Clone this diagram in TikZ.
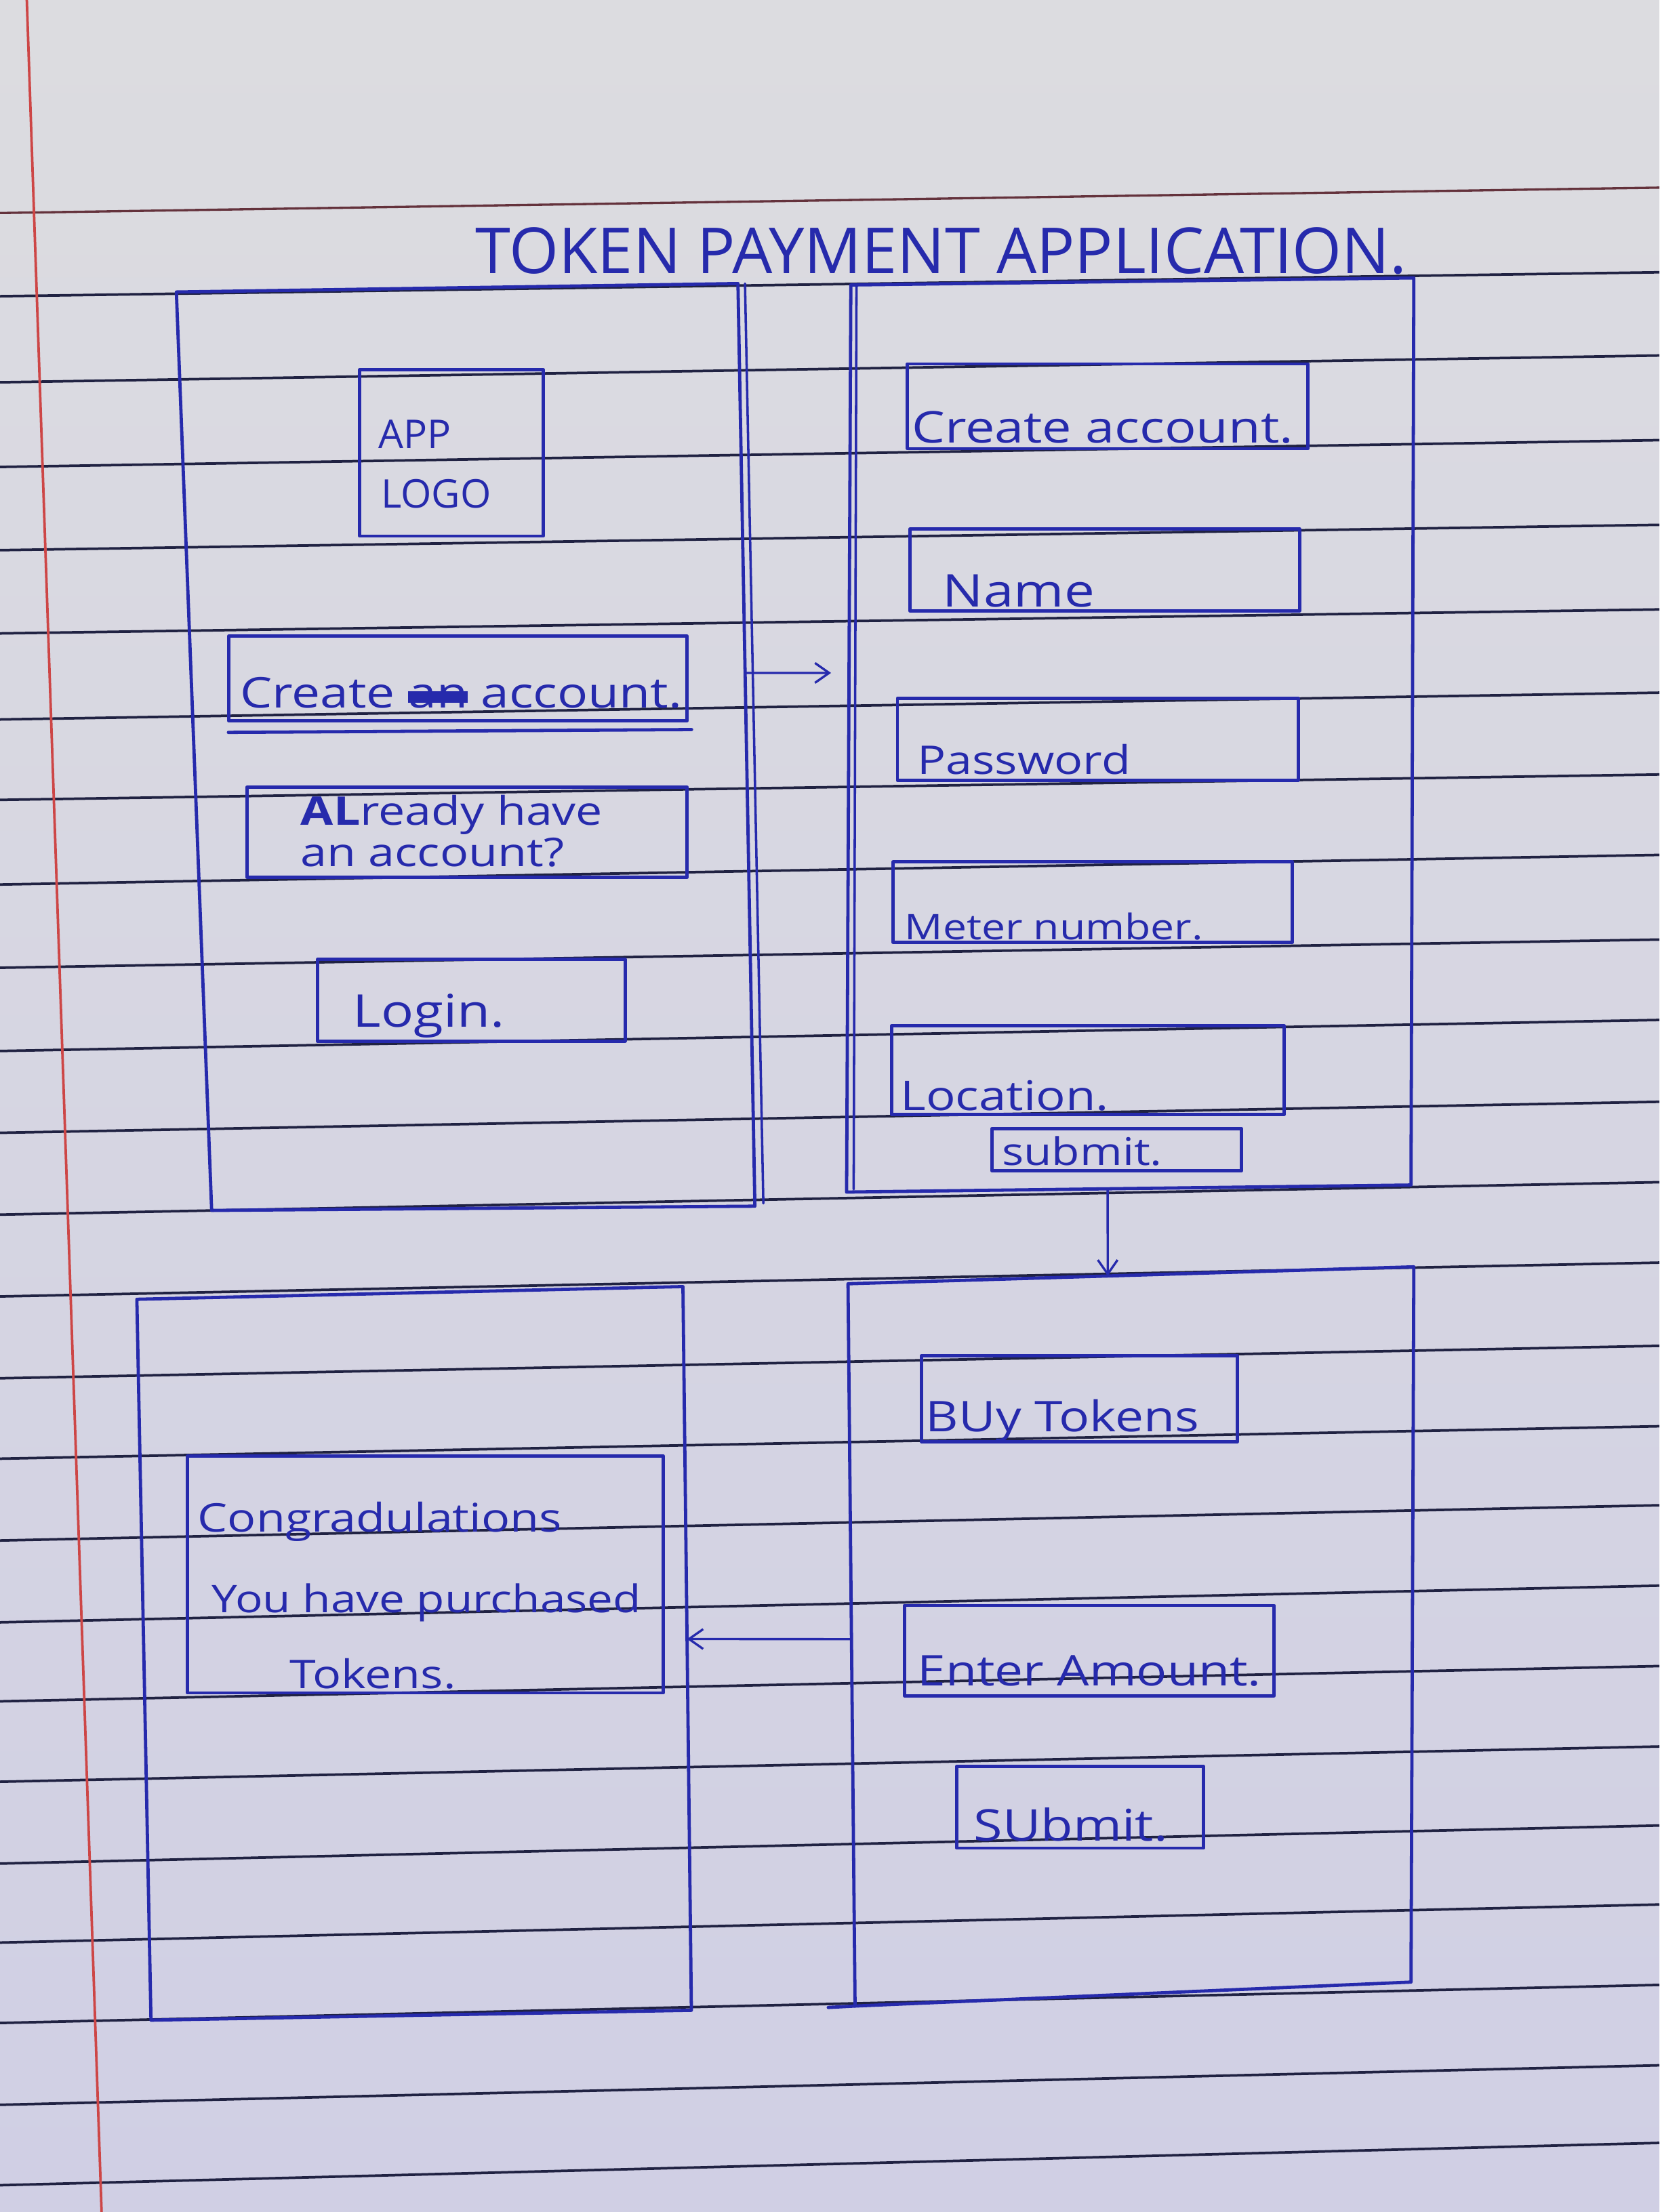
\documentclass[tikz,border=0pt]{standalone}
\usepackage{fontspec}
\newfontfamily\hand[FakeStretch=1.2]{Open Sans}
\newfontfamily\handn{Open Sans}
\usetikzlibrary{arrows.meta,fit,calc}
\definecolor{ink}{RGB}{38,42,172}
\definecolor{rulecol}{RGB}{32,34,66}
\definecolor{headrule}{RGB}{100,50,60}
\definecolor{margincol}{RGB}{205,70,70}
\definecolor{paperTop}{RGB}{220,220,224}
\definecolor{paperBot}{RGB}{208,207,228}
\newcommand\fs[1]{\fontsize{#1}{#1}\selectfont}
% a word scribbled out with a heavy bar
\newsavebox\scribbox
\newcommand\scribble[1]{\sbox\scribbox{#1}\makebox[0pt][l]{\rule[0.12em]{\wd\scribbox}{0.28em}}\usebox\scribbox}

\begin{document}
\begin{tikzpicture}[x=1pt,y=-1pt,
  inkline/.style={draw=ink, line width=2.3pt, line join=round, line cap=round},
  box/.style={inkline, rectangle, inner sep=0pt},
  lbl/.style={text=ink, inner sep=0pt, anchor=base west},
  arr/.style={draw=ink, line width=1.6pt, -{Straight Barb[length=10pt,width=14pt]}},
  rule/.style={draw=rulecol, line width=1.8pt},
]
\useasboundingbox (0,0) rectangle (1176,1568);

% ruled notebook paper
\fill[top color=paperTop, bottom color=paperBot] (0,0) rectangle (1176,1568);
\draw[draw=headrule, line width=1.6pt] (0,151) -- (1176,133);
\foreach \yl/\yr in {210/193, 271/252, 331/312, 390/372, 449/432, 510/491,
    567/549, 627/606, 686/666, 745/723, 803/781, 861/838, 919/895, 977/954,
    1034/1011, 1092/1067, 1150/1124, 1206/1181, 1263/1238, 1321/1294,
    1377/1350, 1434/1407, 1492/1464, 1549/1519}
  \draw[rule] (0,\yl) -- (1176,\yr);
\draw[draw=margincol, line width=1.8pt] (19,0) -- (72,1568);

% title
\node[lbl, anchor=base, font=\handn\fs{45}] (title) at (667,194) {TOKEN PAYMENT APPLICATION.};

% screen 1: welcome
\coordinate (s1a) at (125,207);
\coordinate (s1b) at (523,201);
\coordinate (s1c) at (535,855);
\coordinate (s1d) at (150,858);
\draw[inkline] (s1a) -- (s1b) -- (s1c) -- (s1d) -- cycle;
\draw[inkline, line width=1.7pt] ($(s1b)+(5,0)$) -- ($(s1c)+(6,-2)$);

\node[box, fit={(255,262) (385,380)}] (logo) {};
\node[lbl, font=\handn\fs{28}] (app) at (268,318) {APP};
\node[lbl, font=\handn\fs{28}] (logotxt) at (270,360) {LOGO};

\node[box, fit={(162,451) (487,511)}] (create1) {};
\draw[inkline] ($(create1.south west)+(1,7)$) -- ($(create1.south east)+(2,5)$);
\node[lbl, font=\hand\fs{30}] (create1txt) at (170,502)
  {Create \scribble{an} account.};

\node[box, fit={(175,558) (487,622)}] (already) {};
\node[lbl, font=\hand\fs{28}] (already1) at (213,585) {\textbf{AL}ready have};
\node[lbl, font=\hand\fs{28}] (already2) at (213,614) {an account?};

\node[box, fit={(225,680) (443,738)}] (login) {};
\node[lbl, font=\hand\fs{32}] (logintxt) at (250,728) {Login.};

% screen 2: registration
\coordinate (s2a) at (603,202);
\coordinate (s2b) at (1002,197);
\coordinate (s2c) at (1000,840);
\coordinate (s2d) at (600,845);
\draw[inkline] (s2a) -- (s2b) -- (s2c) -- (s2d) -- cycle;
\draw[inkline, line width=1.7pt] ($(s2a)+(4,1)$) -- ($(s2d)+(5,-2)$);

\node[box, fit={(643,258) (927,318)}] (createacc) {};
\node[lbl, font=\hand\fs{31}] (createacctxt) at (646,314) {Create account.};
\node[box, fit={(645,375) (921,433)}] (name) {};
\node[lbl, font=\hand\fs{32}] (nametxt) at (668,430) {Name};
\node[box, fit={(636,495) (920,553)}] (pass) {};
\node[lbl, font=\hand\fs{28}] (passtxt) at (650,549) {Password};
\node[box, fit={(633,611) (916,668)}] (meter) {};
\node[lbl, font=\hand\fs{25}] (metertxt) at (641,666) {Meter number.};
\node[box, fit={(632,727) (910,790)}] (loc) {};
\node[lbl, font=\hand\fs{29}] (loctxt) at (638,787) {Location.};
\node[box, fit={(703,800) (880,830)}] (submit1) {};
\node[lbl, font=\hand\fs{27}] (submit1txt) at (710,826) {submit.};

% screen 3: purchase
\coordinate (s3a) at (601,910);
\coordinate (s3b) at (1002,898);
\coordinate (s3c) at (1000,1405);
\coordinate (s3d) at (606,1422);
\draw[inkline] (s3a) -- (s3b) -- (s3c) -- (s3d) -- cycle;
\draw[inkline] (s3d) -- ++(-19,1);

\node[box, fit={(653,961) (877,1022)}] (buy) {};
\node[lbl, font=\hand\fs{30}] (buytxt) at (656,1015) {BUy Tokens};
\node[box, fit={(641,1138) (903,1202)}] (amount) {};
\node[lbl, font=\hand\fs{30}] (amounttxt) at (650,1195) {Enter Amount.};
\node[box, fit={(678,1252) (853,1310)}] (submit2) {};
\node[lbl, font=\hand\fs{31}] (submit2txt) at (690,1305) {SUbmit.};

% screen 4: confirmation
\coordinate (s4a) at (97,921);
\coordinate (s4b) at (484,912);
\coordinate (s4c) at (490,1425);
\coordinate (s4d) at (107,1432);
\draw[inkline] (s4a) -- (s4b) -- (s4c) -- (s4d) -- cycle;

\node[box, fit={(133,1032) (470,1200)}] (congrats) {};
\node[lbl, font=\hand\fs{28}] (congrats1) at (140,1086) {Congradulations};
\node[lbl, font=\hand\fs{27}] (congrats2) at (150,1143) {You have purchased};
\node[lbl, font=\hand\fs{28}] (congrats3) at (205,1197) {Tokens.};

% flow between screens
\coordinate (a1s) at ($(s1b)!0.422!(s1c)$);
\coordinate (a1e) at (589,477);
\draw[arr] (a1s) -- (a1e);
\draw[arr] ($(s2d)!0.4625!(s2c)$) -- ($(s3a)!0.459!(s3b)$);
\draw[arr] ($(s3a)!0.492!(s3d)$) -- ($(s4b)!0.487!(s4c)$);
\end{tikzpicture}
\end{document}
